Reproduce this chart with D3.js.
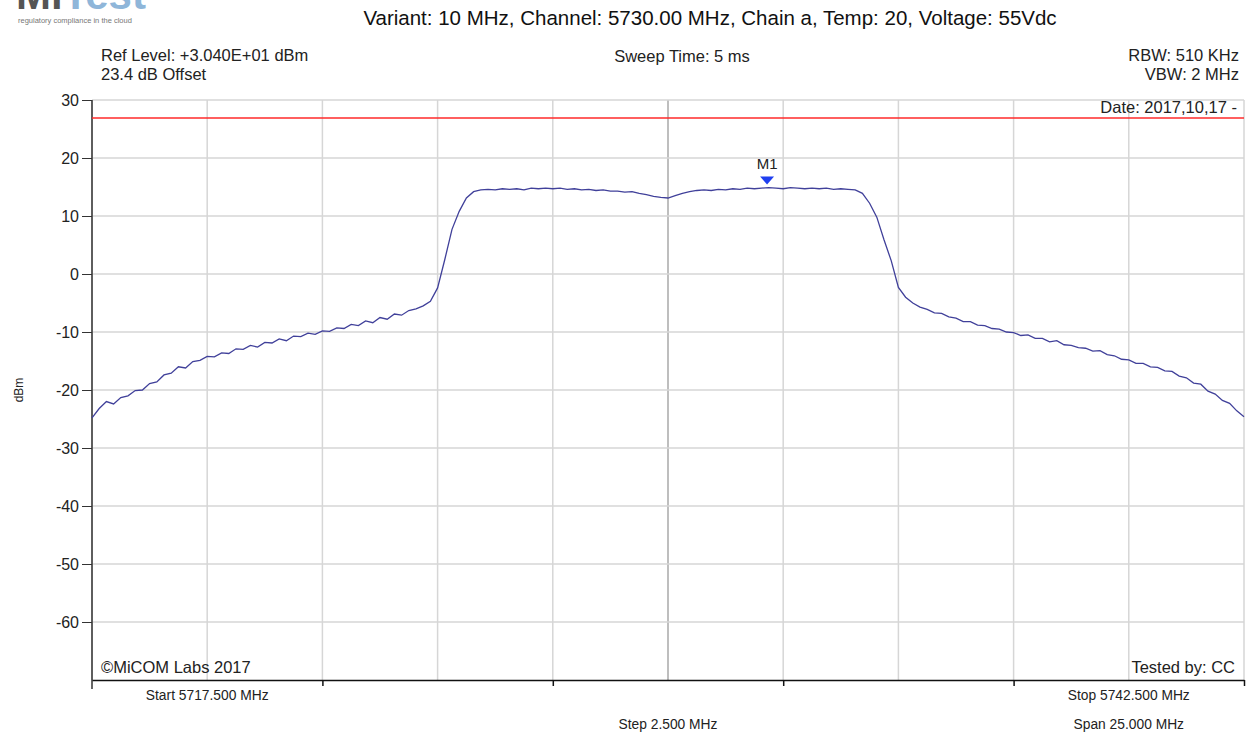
<!DOCTYPE html>
<html lang="en">
<head>
<meta charset="utf-8">
<title>Channel power spectrum</title>
<script src="https://d3js.org/d3.v7.min.js"></script>
<style>
  body { margin: 0; background: #fff; }
  text { font-family: "Liberation Sans", Arial, sans-serif; fill: #222; }
</style>
</head>
<body>
<div id="my_dataviz"></div>
<script>

// sweep settings (MHz)
var startFreq = 5717.5,
    stopFreq = 5742.5,
    stepFreq = 2.5;

// trace levels in dBm, one per sweep point from start to stop
var levels = [
  -24.8, -23.2, -22.0, -22.4, -21.3, -21.0, -20.1, -20.0, -18.9, -18.6,
  -17.4, -17.1, -16.0, -16.2, -15.1, -14.9, -14.2, -14.3, -13.6, -13.7,
  -12.9, -13.0, -12.3, -12.6, -11.8, -11.9, -11.2, -11.5, -10.7, -10.8,
  -10.2, -10.4, -9.8, -9.9, -9.3, -9.4, -8.7, -8.9, -8.1, -8.4,
  -7.5, -7.8, -6.9, -7.1, -6.3, -6.0, -5.5, -4.7,
  -2.4, 2.5, 7.7, 10.8, 13.1, 14.2, 14.5,
  14.6, 14.5, 14.7, 14.6, 14.7, 14.5, 14.8, 14.7, 14.8, 14.7,
  14.8, 14.6, 14.7, 14.5, 14.6, 14.4, 14.5, 14.3, 14.3, 14.1,
  14.2, 13.9, 13.7, 13.4, 13.2,
  13.1, 13.5, 13.9, 14.2, 14.4,
  14.5, 14.4, 14.6, 14.5, 14.7, 14.6, 14.8, 14.7, 14.8, 14.9,
  14.8, 14.7, 14.9, 14.8, 14.7, 14.8, 14.7, 14.8, 14.6, 14.7,
  14.6, 14.5,
  13.9, 12.2, 9.8, 5.9, 2.3, -2.3, -4.0,
  -5.0, -5.7, -6.1, -6.7, -6.8, -7.4, -7.6, -8.2, -8.2, -8.8,
  -8.9, -9.4, -9.5, -10.0, -10.1, -10.6, -10.5, -11.1, -11.1, -11.7,
  -11.5, -12.2, -12.3, -12.7, -12.8, -13.3, -13.2, -13.9, -14.1, -14.7,
  -14.8, -15.4, -15.4, -16.0, -16.1, -16.7, -16.8, -17.6, -17.9, -18.8,
  -19.0, -20.2, -20.7, -21.8, -22.3, -23.6, -24.6
];

var yTicks = [30, 20, 10, 0, -10, -20, -30, -40, -50, -60];
var limitLevel = 26.9;
var markerFreq = 5732.15, markerLevel = 14.9;

var titleText = "Variant: 10 MHz, Channel: 5730.00 MHz, Chain a, Temp: 20, Voltage: 55Vdc";

var width = 1250, height = 736;
var plot = {left: 92, right: 1244, top: 100, bottom: 680};

var svg = d3.select("#my_dataviz")
  .append("svg")
  .attr("width", width)
  .attr("height", height);

var x = d3.scaleLinear()
  .domain([startFreq, stopFreq])
  .range([plot.left, plot.right]);

var y = d3.scaleLinear()
  .domain([-70, 30])
  .range([plot.bottom, plot.top]);

var points = levels.map(function(d, i) {
  return {f: startFreq + i * (stopFreq - startFreq) / (levels.length - 1), v: d};
});

// logo, cut off at the top like the original
svg.append("text").attr("x", 16).attr("y", 9)
  .style("font-size", "42px").style("font-weight", "bold")
  .style("fill", "#555").text("Mi")
  .append("tspan").style("fill", "#8fb6d9").text("Test");
svg.append("text").attr("x", 18).attr("y", 23)
  .style("font-size", "7.5px").style("fill", "#777")
  .text("regulatory compliance in the cloud");

// title
svg.append("text").attr("x", 710).attr("y", 25)
  .attr("text-anchor", "middle").style("font-size", "20.5px").style("fill", "#111")
  .text(titleText);

// header info
svg.append("text").attr("x", 101).attr("y", 61).style("font-size", "16.5px").text("Ref Level: +3.040E+01 dBm");
svg.append("text").attr("x", 101).attr("y", 80).style("font-size", "16.5px").text("23.4 dB Offset");
svg.append("text").attr("x", 682).attr("y", 62).attr("text-anchor", "middle").style("font-size", "16.5px").text("Sweep Time: 5 ms");
svg.append("text").attr("x", 1239).attr("y", 61).attr("text-anchor", "end").style("font-size", "16.5px").text("RBW: 510 KHz");
svg.append("text").attr("x", 1239).attr("y", 80).attr("text-anchor", "end").style("font-size", "16.5px").text("VBW: 2 MHz");

// grid
var vgrid = d3.range(startFreq, stopFreq + 0.001, stepFreq);
svg.append("g").selectAll("line")
  .data(vgrid)
  .enter().append("line")
    .attr("x1", function(d) { return x(d); })
    .attr("x2", function(d) { return x(d); })
    .attr("y1", plot.top).attr("y2", plot.bottom)
    .attr("stroke", function(d) { return Math.abs(d - 5730) < 0.01 ? "#a8a8a8" : "#d6d6d6"; })
    .attr("stroke-width", 1.5);

svg.append("g").selectAll("line")
  .data(yTicks)
  .enter().append("line")
    .attr("x1", plot.left).attr("x2", plot.right)
    .attr("y1", function(d) { return y(d); })
    .attr("y2", function(d) { return y(d); })
    .attr("stroke", "#d6d6d6")
    .attr("stroke-width", 1.5);

// left axis
var yAxis = svg.append("g")
  .attr("transform", "translate(" + plot.left + ",0)")
  .call(d3.axisLeft(y).tickValues(yTicks).tickSize(10).tickPadding(3).tickSizeOuter(0)
    .tickFormat(function(d) { return String(d); }));
yAxis.select(".domain").remove();
yAxis.selectAll("text").style("font-size", "16px").style("fill", "#222")
  .style("font-family", "'Liberation Sans', Arial, sans-serif");
yAxis.selectAll("line").attr("stroke", "#333");
svg.append("line")
  .attr("x1", plot.left).attr("x2", plot.left)
  .attr("y1", plot.top).attr("y2", plot.bottom + 9)
  .attr("stroke", "#333").attr("stroke-width", 1.5);

svg.append("text")
  .attr("transform", "translate(23," + y(-20) + ")rotate(-90)")
  .attr("text-anchor", "middle").style("font-size", "12px").text("dBm");

// bottom axis
var xAxis = svg.append("g")
  .attr("transform", "translate(0," + plot.bottom + ")")
  .call(d3.axisBottom(x)
    .tickValues([5722.5, 5727.5, 5732.5, 5737.5, stopFreq])
    .tickFormat("").tickSize(6).tickSizeOuter(0));
xAxis.select(".domain").attr("stroke", "#111").attr("stroke-width", 1.5);
xAxis.selectAll("line").attr("stroke", "#111").attr("stroke-width", 1.5);

// limit line
svg.append("line")
  .attr("x1", plot.left).attr("x2", plot.right)
  .attr("y1", y(limitLevel)).attr("y2", y(limitLevel))
  .attr("stroke", "#ff2a2a").attr("stroke-width", 1.5);

svg.append("text").attr("x", 1237).attr("y", 113).attr("text-anchor", "end")
  .style("font-size", "16.5px").text("Date: 2017,10,17 -");

// trace
svg.append("path")
  .datum(points)
  .attr("fill", "none")
  .attr("stroke", "#40409a")
  .attr("stroke-width", 1.3)
  .attr("d", d3.line()
    .x(function(d) { return x(d.f); })
    .y(function(d) { return y(d.v); }));

// marker M1
var mx = x(markerFreq), my = y(markerLevel);
svg.append("path")
  .attr("d", "M" + (mx - 7) + "," + (my - 11) + "L" + (mx + 7) + "," + (my - 11) + "L" + mx + "," + (my - 3) + "Z")
  .attr("fill", "#1f3ff0");
svg.append("text").attr("x", mx).attr("y", my - 19)
  .attr("text-anchor", "middle").style("font-size", "15px").text("M1");

// footer texts
svg.append("text").attr("x", 101).attr("y", 673).style("font-size", "16.5px").text("\u00A9MiCOM Labs 2017");
svg.append("text").attr("x", 1235).attr("y", 673).attr("text-anchor", "end").style("font-size", "16.5px").text("Tested by: CC");

svg.append("text").attr("x", x(startFreq + stepFreq)).attr("y", 700).attr("text-anchor", "middle")
  .style("font-size", "13.8px").text("Start 5717.500 MHz");
svg.append("text").attr("x", x(stopFreq - stepFreq)).attr("y", 700).attr("text-anchor", "middle")
  .style("font-size", "13.8px").text("Stop 5742.500 MHz");
svg.append("text").attr("x", x(5730)).attr("y", 729).attr("text-anchor", "middle")
  .style("font-size", "13.8px").text("Step 2.500 MHz");
svg.append("text").attr("x", x(stopFreq - stepFreq)).attr("y", 729).attr("text-anchor", "middle")
  .style("font-size", "13.8px").text("Span 25.000 MHz");

</script>
</body>
</html>
